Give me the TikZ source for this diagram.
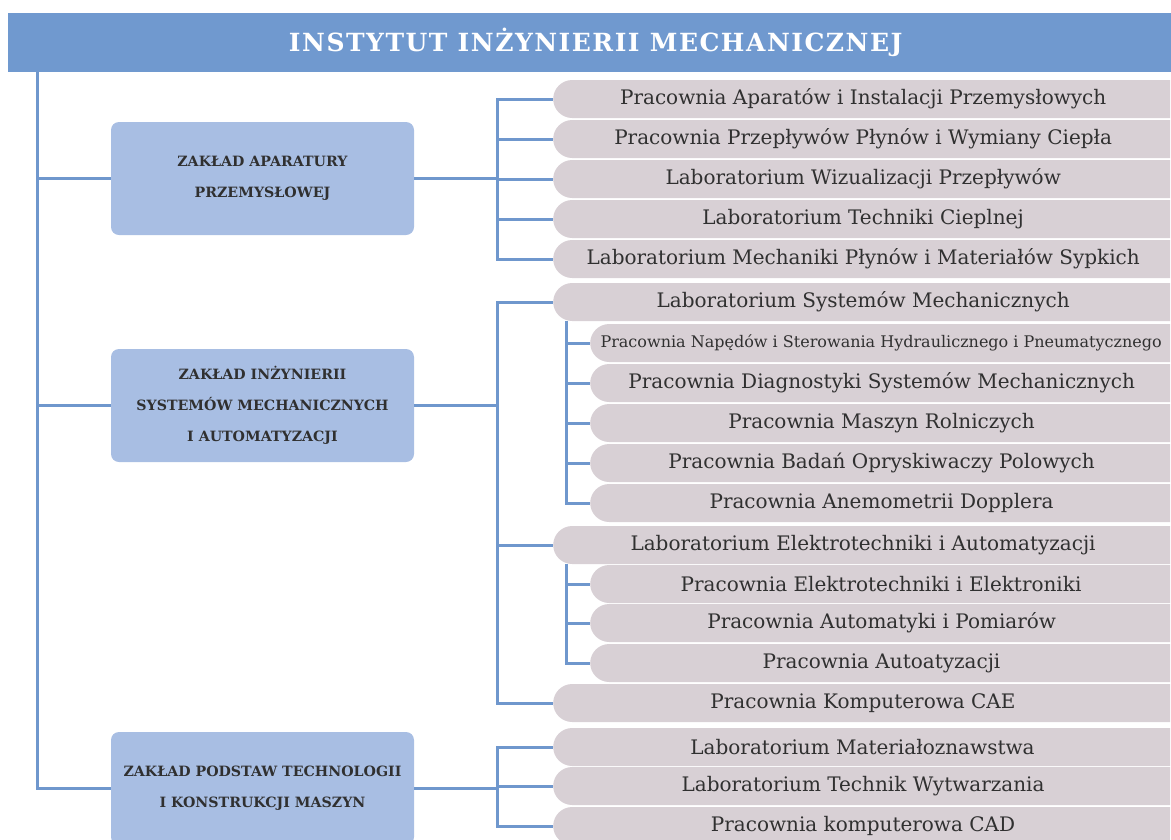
\documentclass[tikz,border=0pt]{standalone}
\usepackage{fontspec}
\setmainfont{DejaVu Serif}
\newfontfamily\titlefont[LetterSpace=6]{DejaVu Serif}
\usepackage{tikz}
\usetikzlibrary{positioning,shapes.misc}

\definecolor{hdblue}{HTML}{7099CF}
\definecolor{boxblue}{HTML}{A8BEE3}
\definecolor{pillgray}{HTML}{D8D0D5}
\definecolor{linkblue}{HTML}{6F97CD}
\definecolor{txtgray}{HTML}{303030}

\tikzset{
  header/.style={fill=hdblue, text=white, minimum width=1175pt, minimum height=59pt,
    anchor=north west, inner sep=0pt, font=\titlefont\bfseries\fontsize{25}{28}\selectfont},
  dept/.style={fill=boxblue, rounded corners=8pt, minimum width=303pt, minimum height=113pt,
    align=center, text=txtgray, font=\bfseries\fontsize{14.2}{31}\selectfont},
  unitpill/.style={rounded rectangle, rounded rectangle right arc=none, fill=pillgray,
    minimum height=38pt, anchor=west, inner sep=0pt, text=txtgray,
    font=\fontsize{20}{22}\selectfont},
  labpill/.style={unitpill, minimum width=617pt},
  subpill/.style={unitpill, minimum width=580pt},
  conn/.style={draw=linkblue, line width=3pt},
}

\begin{document}
\begin{tikzpicture}[x=1pt, y=-1pt]

    \useasboundingbox (0,0) rectangle (1171,839);

    % header and bus lines
    \node[header] (hd) at (8,13) {INSTYTUT INŻYNIERII MECHANICZNEJ};
    \coordinate (trunk) at (37,0);
    \coordinate (busA) at (497,0);
    \coordinate (busB) at (566,0);

    % departments
    \node[dept] (zap) at (262.5,178.5) {ZAKŁAD APARATURY\\PRZEMYSŁOWEJ};
    \node[dept] (zism) at (262.5,405.5) {ZAKŁAD INŻYNIERII\\SYSTEMÓW MECHANICZNYCH\\I AUTOMATYZACJI};
    \node[dept] (zptk) at (262.5,788.5) {ZAKŁAD PODSTAW TECHNOLOGII\\I KONSTRUKCJI MASZYN};

    % units
    \node[labpill] (p1) at (553,99) {Pracownia Aparatów i Instalacji Przemysłowych};
    \node[labpill] (p2) at (553,139) {Pracownia Przepływów Płynów i Wymiany Ciepła};
    \node[labpill] (p3) at (553,179) {Laboratorium Wizualizacji Przepływów};
    \node[labpill] (p4) at (553,219) {Laboratorium Techniki Cieplnej};
    \node[labpill] (p5) at (553,259) {Laboratorium Mechaniki Płynów i Materiałów Sypkich};

    \node[labpill] (p6) at (553,302) {Laboratorium Systemów Mechanicznych};
    \node[subpill, font=\fontsize{16}{18}\selectfont] (p7) at (590,343) {Pracownia Napędów i Sterowania Hydraulicznego i Pneumatycznego};
    \node[subpill] (p8) at (590,383) {Pracownia Diagnostyki Systemów Mechanicznych};
    \node[subpill] (p9) at (590,423) {Pracownia Maszyn Rolniczych};
    \node[subpill] (p10) at (590,463) {Pracownia Badań Opryskiwaczy Polowych};
    \node[subpill] (p11) at (590,503) {Pracownia Anemometrii Dopplera};
    \node[labpill] (p12) at (553,545) {Laboratorium Elektrotechniki i Automatyzacji};
    \node[subpill] (p13) at (590,584) {Pracownia Elektrotechniki i Elektroniki};
    \node[subpill] (p14) at (590,623) {Pracownia Automatyki i Pomiarów};
    \node[subpill] (p15) at (590,663) {Pracownia Autoatyzacji};
    \node[labpill] (p16) at (553,703) {Pracownia Komputerowa CAE};

    \node[labpill] (p17) at (553,747) {Laboratorium Materiałoznawstwa};
    \node[labpill] (p18) at (553,786) {Laboratorium Technik Wytwarzania};
    \node[labpill] (p19) at (553,826) {Pracownia komputerowa CAD};

    % connectors
    \foreach \d in {zap,zism,zptk}
        \draw[conn] (hd.south -| trunk) |- (\d.west);
    \foreach \p in {p1,p2,p3,p4,p5}
        \draw[conn] (zap.east) -- (zap.east -| busA) |- (\p.west);
    \foreach \p in {p6,p12,p16}
        \draw[conn] (zism.east) -- (zism.east -| busA) |- (\p.west);
    \foreach \p in {p7,p8,p9,p10,p11}
        \draw[conn] (p6.south -| busB) |- (\p.west);
    \foreach \p in {p13,p14,p15}
        \draw[conn] (p12.south -| busB) |- (\p.west);
    \foreach \p in {p17,p18,p19}
        \draw[conn] (zptk.east) -- (zptk.east -| busA) |- (\p.west);

\end{tikzpicture}
\end{document}
